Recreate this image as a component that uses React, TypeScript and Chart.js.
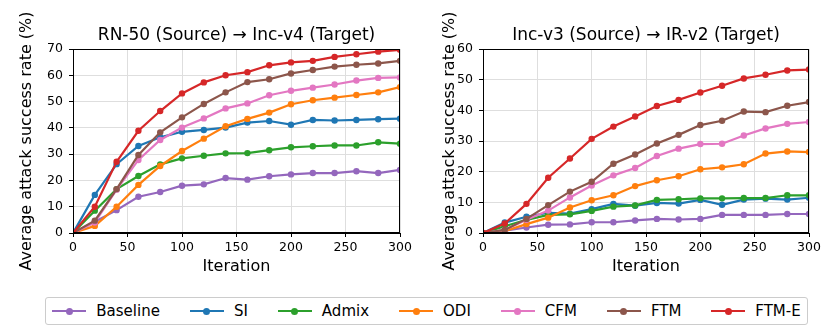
import React, { useEffect, useRef } from "react";
import { Chart, registerables } from "chart.js";

Chart.register(...registerables);

const iterations = [0, 20, 40, 60, 80, 100, 120, 140, 160, 180, 200, 220, 240, 260, 280, 300];
const methods = ["Baseline", "SI", "Admix", "ODI", "CFM", "FTM", "FTM-E"];
const colors = ["#9467bd", "#1f77b4", "#2ca02c", "#ff7f0e", "#e377c2", "#8c564b", "#d62728"];

const leftTitle = "RN-50 (Source) \u2192 Inc-v4 (Target)";
const leftMax = 70;
const leftBaseline = [0, 4.3, 8.7, 13.8, 15.6, 18.0, 18.5, 20.9, 20.3, 21.6, 22.3, 22.8, 22.8, 23.5, 22.8, 24.0];
const leftSI = [0, 14.5, 26.2, 33.1, 36.4, 38.5, 39.2, 40.1, 42.0, 42.6, 41.2, 43.0, 42.8, 43.0, 43.3, 43.5];
const leftAdmix = [0, 8.5, 16.7, 21.7, 26.1, 28.4, 29.4, 30.3, 30.4, 31.5, 32.6, 33.0, 33.3, 33.3, 34.5, 34.0];
const leftODI = [0, 2.7, 10.0, 18.3, 25.5, 31.2, 35.9, 40.6, 43.4, 45.8, 49.0, 50.5, 51.5, 52.5, 53.5, 55.5];
const leftCFM = [0, 4.0, 16.5, 27.8, 35.4, 40.1, 43.6, 47.4, 49.3, 52.4, 54.1, 55.3, 56.5, 58.0, 59.0, 59.2];
const leftFTM = [0, 4.7, 16.7, 29.7, 38.3, 44.0, 49.1, 53.5, 57.4, 58.5, 60.7, 62.0, 63.3, 64.0, 64.5, 65.5];
const leftFTME = [0, 10.0, 27.1, 38.9, 46.4, 53.1, 57.3, 60.0, 61.2, 63.8, 64.9, 65.5, 67.0, 68.0, 69.0, 69.7];

const rightTitle = "Inc-v3 (Source) \u2192 IR-v2 (Target)";
const rightMax = 60;
const rightBaseline = [0, 0.8, 1.8, 2.7, 2.8, 3.5, 3.5, 4.1, 4.6, 4.4, 4.6, 5.9, 5.9, 5.9, 6.2, 6.2];
const rightSI = [0, 3.4, 5.3, 6.6, 6.3, 7.8, 9.5, 8.9, 9.8, 9.6, 10.8, 9.2, 10.9, 11.2, 10.9, 11.5];
const rightAdmix = [0, 2.2, 4.3, 5.9, 6.1, 7.2, 8.6, 9.0, 10.8, 11.0, 11.3, 11.3, 11.4, 11.4, 12.3, 12.3];
const rightODI = [0, 0.6, 2.9, 5.0, 8.3, 10.7, 12.3, 15.3, 17.2, 18.5, 20.8, 21.4, 22.4, 25.9, 26.6, 26.4];
const rightCFM = [0, 1.0, 4.3, 7.3, 11.6, 15.5, 18.8, 21.2, 25.1, 27.5, 29.0, 29.1, 31.8, 34.1, 35.6, 36.2];
const rightFTM = [0, 1.0, 4.6, 9.1, 13.5, 16.7, 22.6, 25.6, 29.2, 32.0, 35.2, 36.6, 39.6, 39.4, 41.5, 42.7];
const rightFTME = [0, 3.1, 9.5, 18.0, 24.3, 30.7, 34.7, 38.0, 41.4, 43.4, 45.8, 48.0, 50.4, 51.6, 53.0, 53.3];

const xTicksStep = 50;
const yTicksStep = 10;
const xLabel = "Iteration";
const yLabel = "Average attack success rate (%)";

const FONT = "'DejaVu Sans', sans-serif";

const spinesPlugin = {
  id: "spines",
  afterDatasetsDraw(chart: any) {
    const { ctx, chartArea } = chart;
    const l = Math.round(chartArea.left) + 0.5;
    const t = Math.round(chartArea.top) + 0.5;
    const r = Math.round(chartArea.right) - 0.5;
    const b = Math.round(chartArea.bottom) - 0.5;
    ctx.save();
    ctx.strokeStyle = "#000";
    ctx.lineWidth = 1;
    ctx.strokeRect(l, t, r - l, b - t);
    ctx.restore();
  },
};

function makeConfig(title: string, yMax: number, series: number[][], axisWidth: number, yTitlePad: number, rightPad: number) {
  return {
    type: "line",
    data: {
      datasets: series.map((vals, i) => ({
        label: methods[i],
        data: iterations.map((x, j) => ({ x, y: vals[j] })),
        borderColor: colors[i],
        backgroundColor: colors[i],
        pointBackgroundColor: colors[i],
        pointBorderColor: colors[i],
        borderWidth: 2.2,
        pointRadius: 3.2,
        pointBorderWidth: 0,
        pointHoverRadius: 3.2,
        tension: 0,
        order: methods.length - i,
      })),
    },
    options: {
      animation: false,
      responsive: false,
      layout: { padding: { left: 0, right: rightPad, top: 0, bottom: 0 } },
      plugins: {
        legend: { display: false },
        tooltip: { enabled: false },
        title: {
          display: true,
          fullSize: false,
          text: title,
          color: "#000",
          font: { family: FONT, size: 17, weight: "normal" },
          padding: { top: 25.8, bottom: 2.8 },
        },
      },
      scales: {
        x: {
          type: "linear",
          min: 0,
          max: 300,
          afterFit: (s: any) => { s.height = 57; },
          ticks: { stepSize: xTicksStep, color: "#000", font: { family: FONT, size: 12.5 }, padding: 3, maxRotation: 0 },
          grid: { color: "#dedede", lineWidth: 1, tickColor: "#000", tickLength: 4 },
          border: { color: "#000", width: 1 },
          title: {
            display: true,
            text: xLabel,
            color: "#000",
            font: { family: FONT, size: 16 },
            padding: { top: 0, bottom: 14 },
          },
        },
        y: {
          min: 0,
          max: yMax,
          afterFit: (s: any) => { s.width = axisWidth; },
          ticks: { stepSize: yTicksStep, color: "#000", font: { family: FONT, size: 12.5 }, padding: 6 },
          grid: { color: "#dedede", lineWidth: 1, tickColor: "#000", tickLength: 4 },
          border: { color: "#000", width: 1 },
          title: {
            display: true,
            text: yLabel,
            color: "#000",
            font: { family: FONT, size: 16 },
            padding: { top: yTitlePad, bottom: 0 },
          },
        },
      },
    },
    plugins: [spinesPlugin],
  };
}

function LineChart(props: { config: any; width: number; height: number; left: number }) {
  const ref = useRef<HTMLCanvasElement | null>(null);
  useEffect(() => {
    if (!ref.current) return;
    const chart = new Chart(ref.current, props.config);
    return () => chart.destroy();
  }, []);
  return (
    <canvas
      ref={ref}
      width={props.width}
      height={props.height}
      style={{ position: "absolute", left: props.left, top: 0, width: props.width, height: props.height }}
    />
  );
}

export default function App() {
  const leftSeries = [leftBaseline, leftSI, leftAdmix, leftODI, leftCFM, leftFTM, leftFTME];
  const rightSeries = [rightBaseline, rightSI, rightAdmix, rightODI, rightCFM, rightFTM, rightFTME];
  const leftCfg = makeConfig(leftTitle, leftMax, leftSeries, 73, 17, 15);
  const rightCfg = makeConfig(rightTitle, rightMax, rightSeries, 68, 25, 22);
  return (
    <div style={{ position: "absolute", left: 0, top: 0, width: 831, height: 331, background: "#fff", overflow: "hidden" }}>
      <LineChart config={leftCfg} width={415} height={290} left={0} />
      <LineChart config={rightCfg} width={416} height={290} left={415} />
      <div
        style={{
          position: "absolute",
          left: 45,
          top: 297,
          width: 763,
          height: 28,
          boxSizing: "border-box",
          border: "1px solid #cccccc",
          borderRadius: 3,
          display: "flex",
          alignItems: "center",
          justifyContent: "center",
          gap: 30,
          fontFamily: FONT,
          fontSize: 15,
          color: "#000",
        }}
      >
        {methods.map((m, i) => (
          <div key={m} style={{ display: "flex", alignItems: "center" }}>
            <span style={{ position: "relative", display: "inline-block", width: 34, height: 2.5, background: colors[i] }}>
              <span
                style={{
                  position: "absolute",
                  left: 13.5,
                  top: -2.25,
                  width: 7,
                  height: 7,
                  borderRadius: "50%",
                  background: colors[i],
                }}
              />
            </span>
            <span style={{ marginLeft: 10, lineHeight: "18px" }}>{m}</span>
          </div>
        ))}
      </div>
    </div>
  );
}
